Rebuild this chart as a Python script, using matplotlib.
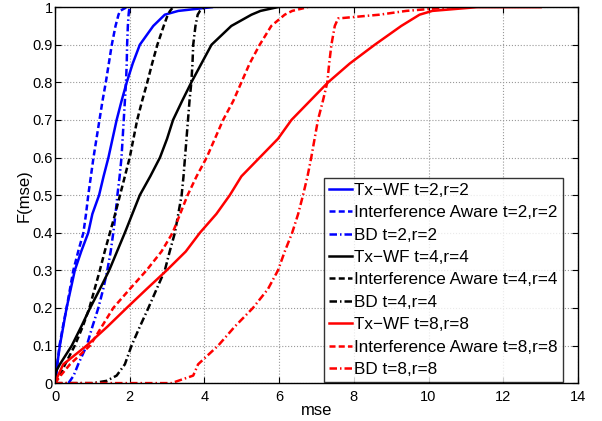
import numpy as np
import matplotlib
matplotlib.use('Agg')
import matplotlib.pyplot as plt

plt.rcParams['font.family'] = ['Liberation Sans', 'DejaVu Sans']

# CDF levels and the mse value read at each level, per curve
F_levels = [0.0, 0.02, 0.05, 0.1, 0.15, 0.2, 0.25, 0.3, 0.35, 0.4, 0.45, 0.5,
            0.55, 0.6, 0.65, 0.7, 0.75, 0.8, 0.85, 0.9, 0.95, 0.98, 0.99, 1.0]

txwf_2 = [0.0, 0.03, 0.06, 0.13, 0.22, 0.31, 0.42, 0.53, 0.7, 0.89, 1.0, 1.18,
          1.3, 1.43, 1.54, 1.65, 1.78, 1.92, 2.08, 2.27, 2.63, 2.94, 3.3, 4.2]
ia_2 = [0.0, 0.03, 0.06, 0.12, 0.21, 0.31, 0.4, 0.49, 0.62, 0.76, 0.83, 0.89,
        0.96, 1.03, 1.11, 1.19, 1.27, 1.36, 1.44, 1.52, 1.62, 1.7, 1.74, 1.92]
bd_2 = [0.36, 0.5, 0.62, 0.85, 1.0, 1.16, 1.29, 1.4, 1.49, 1.56, 1.62, 1.67,
        1.73, 1.78, 1.81, 1.84, 1.87, 1.9, 1.92, 1.93, 1.95, 1.97, 1.98, 2.0]
txwf_4 = [0.0, 0.0, 0.13, 0.45, 0.7, 0.94, 1.2, 1.45, 1.66, 1.87, 2.07, 2.27,
          2.55, 2.81, 3.0, 3.16, 3.4, 3.65, 3.92, 4.19, 4.72, 5.26, 5.5, 5.96]
ia_4 = [0.0, 0.12, 0.27, 0.53, 0.74, 0.92, 1.06, 1.2, 1.33, 1.47, 1.61, 1.74,
        1.87, 2.0, 2.1, 2.2, 2.33, 2.47, 2.6, 2.74, 2.91, 3.02, 3.08, 3.16]
bd_4 = [1.65, 1.65, 1.87, 2.05, 2.27, 2.5, 2.72, 2.94, 3.07, 3.21, 3.3, 3.39,
        3.44, 3.48, 3.52, 3.56, 3.6, 3.65, 3.68, 3.7, 3.76, 3.82, 3.88, 4.0]
txwf_8 = [0.0, 0.08, 0.22, 0.85, 1.4, 1.92, 2.45, 2.99, 3.5, 3.88, 4.32, 4.68,
          4.99, 5.48, 5.97, 6.33, 6.82, 7.31, 7.89, 8.56, 9.27, 9.76, 10.1, 11.3]
ia_8 = [0.0, 0.15, 0.4, 0.94, 1.25, 1.56, 2.0, 2.45, 2.85, 3.15, 3.35, 3.55,
        3.79, 4.06, 4.28, 4.5, 4.77, 4.99, 5.21, 5.48, 5.79, 6.15, 6.35, 6.77]
bd_8 = [3.7, 3.7, 3.83, 4.37, 4.81, 5.3, 5.7, 5.97, 6.15, 6.35, 6.51, 6.64,
        6.76, 6.86, 6.95, 7.04, 7.17, 7.29, 7.34, 7.4, 7.49, 8.69, 9.4, 10.6]

# starting points of the curves that stay at zero for a while
bd_4_start = 1.02
bd_8_start = 3.12
bd_8_knee = 7.58  # last point before the BD t=8 curve flattens
txwf_8_end = 13.0

labels = ['Tx\u2212WF t=2,r=2', 'Interference Aware t=2,r=2', 'BD t=2,r=2',
          'Tx\u2212WF t=4,r=4', 'Interference Aware t=4,r=4', 'BD t=4,r=4',
          'Tx\u2212WF t=8,r=8', 'Interference Aware t=8,r=8', 'BD t=8,r=8']
series = [txwf_2, ia_2, bd_2, txwf_4, ia_4, bd_4, txwf_8, ia_8, bd_8]
colors = ['#0000ff'] * 3 + ['#000000'] * 3 + ['#ff0000'] * 3
dash_styles = [None, (2.4, 1.3), (3.0, 1.2, 0.6, 1.2)] * 3

fig = plt.figure(figsize=(6.02, 4.21), dpi=100)
ax = fig.add_axes([0.0914, 0.090, 0.8686, 0.893])

for i, (xs, lab, c, ds) in enumerate(zip(series, labels, colors, dash_styles)):
    xs = list(xs)
    ys = list(F_levels)
    if i == 3:
        # Tx-WF t=4 jumps right away off zero
        xs = [0.0, 0.02] + xs[2:]
        ys = [0.0, 0.03] + ys[2:]
    if i == 5:
        xs = [0.0, bd_4_start, 1.38] + xs[1:]
        ys = [0.0, 0.0, 0.006] + ys[1:]
    if i == 6:
        xs.append(txwf_8_end)
        ys.append(1.0)
    if i == 8:
        xs = [0.0, bd_8_start] + xs[1:]
        ys = [0.0, 0.0] + ys[1:]
        xs.insert(-3, bd_8_knee)
        ys.insert(-3, 0.97)
    line, = ax.plot(xs, ys, color=c, linewidth=1.8, label=lab)
    if ds is not None:
        line.set_dashes(ds)

ax.set_xlim(0, 14)
ax.set_ylim(0, 1)
ax.set_xticks(np.arange(0, 15, 2))
ax.set_yticks(np.arange(0, 1.01, 0.1))
ax.set_yticklabels(['0', '0.1', '0.2', '0.3', '0.4', '0.5', '0.6', '0.7', '0.8', '0.9', '1'])
ax.tick_params(direction='in', labelsize=10.5, top=True, right=True, length=4)
ax.tick_params(axis='x', pad=5)
ax.tick_params(axis='y', pad=1.5)
ax.grid(True, linestyle=':', color='#999999', linewidth=0.8)
for s in ax.spines.values():
    s.set_linewidth(1.0)
ax.set_xlabel('mse', fontsize=12, labelpad=-1)
ax.set_ylabel('F(mse)', fontsize=12, labelpad=1)

leg = ax.legend(loc='lower right', fontsize=12.3, frameon=True, fancybox=False,
                edgecolor='black', handlelength=1.3, handletextpad=0.15,
                labelspacing=0.43, borderpad=0.3, borderaxespad=0.0,
                bbox_to_anchor=(0.9713, 0.003))
leg.get_frame().set_linewidth(1.0)

fig.savefig('out.png', dpi=100)
